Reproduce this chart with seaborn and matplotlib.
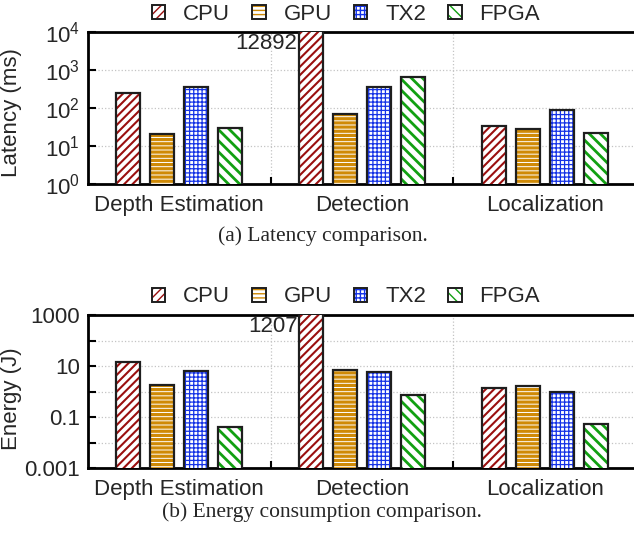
import numpy as np
import pandas as pd
import matplotlib
matplotlib.use("Agg")
import matplotlib.pyplot as plt
import matplotlib.patches as mpatches
from matplotlib.legend_handler import HandlerTuple
from matplotlib.ticker import FixedLocator, NullLocator, LogLocator, FixedFormatter
import seaborn as sns

# ---------------- data ----------------
tasks = ["Depth Estimation", "Detection", "Localization"]
platforms = ["CPU", "GPU", "TX2", "FPGA"]

latency_cpu = [250, 12892, 33]
latency_gpu = [21, 70, 28]
latency_tx2 = [350, 350, 87]
latency_fpga = [30, 650, 22]

energy_cpu = [15, 1207, 1.4]
energy_gpu = [1.8, 7.0, 1.6]
energy_tx2 = [6.1, 5.7, 0.97]
energy_fpga = [0.039, 0.76, 0.053]

latency_ticks = [1, 10, 100, 1000, 10000]
energy_ticks = [0.001, 0.01, 0.1, 1, 10, 100, 1000]
energy_tick_labels = ["0.001", "", "0.1", "", "10", "", "1000"]

captions = ["(a) Latency comparison.", "(b) Energy consumption comparison."]

# ---------------- style ----------------
sns.set_theme(style="white")
plt.rcParams["font.family"] = ["Liberation Sans", "DejaVu Sans"]
plt.rcParams["mathtext.fontset"] = "custom"
plt.rcParams["mathtext.rm"] = "Liberation Sans"
plt.rcParams["mathtext.it"] = "Liberation Sans:italic"
plt.rcParams["mathtext.bf"] = "Liberation Sans:bold"

hatch_colors = ["#9a0f0f", "#cf8a06", "#1432e6", "#12a012"]
hatches = ["////", "----", "++++", "\\\\\\"]
hatch_lw = [1.5, 2.3, 0.9, 2.0]
edge_col = "#1e1e1e"

FS = 16

def make_df(cpu, gpu, tx2, fpga):
    rows = []
    for plat, vals in zip(platforms, [cpu, gpu, tx2, fpga]):
        for t, v in zip(tasks, vals):
            rows.append({"task": t, "platform": plat, "value": v})
    return pd.DataFrame(rows)

lat_df = make_df(latency_cpu, latency_gpu, latency_tx2, latency_fpga)
en_df = make_df(energy_cpu, energy_gpu, energy_tx2, energy_fpga)

W, H = 634, 539
fig = plt.figure(figsize=(W / 100, H / 100), dpi=100)

ax1 = fig.add_axes([88 / W, 1 - 184 / H, 548 / W, 152 / H])
ax2 = fig.add_axes([88 / W, 1 - 468 / H, 548 / W, 153 / H])


def draw(ax, df, ylim, top_label):
    sns.barplot(data=df, x="task", y="value", hue="platform", order=tasks,
                hue_order=platforms, width=0.745, gap=0.3, log_scale=True,
                legend=False, ax=ax, errorbar=None, zorder=3)
    for i, cont in enumerate(ax.containers):
        for p in cont.patches:
            p.set_facecolor("white")
            p.set_edgecolor(hatch_colors[i])
            p.set_hatch(hatches[i])
            p.set_linewidth(0)
            if hasattr(p, "set_hatch_linewidth"):
                p.set_hatch_linewidth(hatch_lw[i])
            r = mpatches.Rectangle((p.get_x(), p.get_y()), p.get_width(), p.get_height(),
                                   fill=False, edgecolor=edge_col, linewidth=1.6, zorder=4)
            ax.add_patch(r)
    ax.set_yscale("log")
    ax.set_ylim(*ylim)
    ax.set_xlim(-0.5, 2.5)
    p = ax.containers[0].patches[1]
    ax.text(p.get_x() - 0.008, ylim[1] * 0.93, top_label, ha="right", va="top",
            fontsize=FS, zorder=5)
    ax.set_xlabel("")
    ax.set_xticks([0, 1, 2])
    ax.set_xticklabels(tasks, fontsize=FS)
    ax.xaxis.set_minor_locator(FixedLocator([0.5, 1.5]))
    ax.tick_params(axis="x", which="major", length=0, pad=8)
    ax.tick_params(axis="x", which="minor", direction="in", length=5, width=1.5,
                   color="black", bottom=True)
    ax.tick_params(axis="y", which="major", direction="in", length=6, width=1.5,
                   color="black", left=True, labelsize=FS, pad=6)
    ax.tick_params(axis="y", which="minor", direction="in", length=3, width=1.0,
                   color="black", left=True)
    ax.grid(True, axis="y", which="major", color="#c4c4c4", linestyle=":", linewidth=0.9, zorder=0)
    ax.grid(True, axis="x", which="minor", color="#c4c4c4", linestyle=":", linewidth=0.9, zorder=0)
    ax.set_axisbelow(True)
    for s in ["top", "bottom", "left", "right"]:
        ax.spines[s].set_color("black")
        ax.spines[s].set_linewidth(2.0)


draw(ax1, lat_df, (1, 1e4), str(latency_cpu[1]))
ax1.yaxis.set_major_locator(FixedLocator(latency_ticks))
ax1.yaxis.set_minor_locator(LogLocator(base=10, subs=np.arange(2, 10)))
ax1.set_ylabel("Latency (ms)", fontsize=FS)
ax1.yaxis.set_label_coords(-0.12, 0.47)

draw(ax2, en_df, (1e-3, 1e3), str(energy_cpu[1]))
ax2.yaxis.set_major_locator(FixedLocator(energy_ticks))
ax2.yaxis.set_major_formatter(FixedFormatter(energy_tick_labels))
ax2.yaxis.set_minor_locator(NullLocator())
ax2.set_ylabel("Energy (J)", fontsize=FS)
ax2.yaxis.set_label_coords(-0.12, 0.45)


def legend_handles():
    hs = []
    for i in range(len(platforms)):
        h1 = mpatches.Patch(facecolor="white", edgecolor=hatch_colors[i], hatch=hatches[i], linewidth=0)
        if hasattr(h1, "set_hatch_linewidth"):
            h1.set_hatch_linewidth(hatch_lw[i])
        h2 = mpatches.Patch(facecolor="none", edgecolor=edge_col, linewidth=1.4)
        hs.append((h1, h2))
    return hs

for ycen in [1 - 14 / H, 1 - 297 / H]:
    fig.legend(legend_handles(), platforms, loc="center", bbox_to_anchor=(346 / W, ycen),
               ncol=4, frameon=False, fontsize=FS, handlelength=0.6, handleheight=0.6,
               handletextpad=0.8, columnspacing=1.0, borderaxespad=0, borderpad=0,
               handler_map={tuple: HandlerTuple(ndivide=1, pad=0)})

fig.text(323 / W, 1 - 236 / H, captions[0], ha="center", va="center",
         fontsize=15.5, family=["Liberation Serif", "DejaVu Serif"])
fig.text(322 / W, 1 - 512 / H, captions[1], ha="center", va="center",
         fontsize=15.5, family=["Liberation Serif", "DejaVu Serif"])

fig.savefig("out.png", dpi=100)
